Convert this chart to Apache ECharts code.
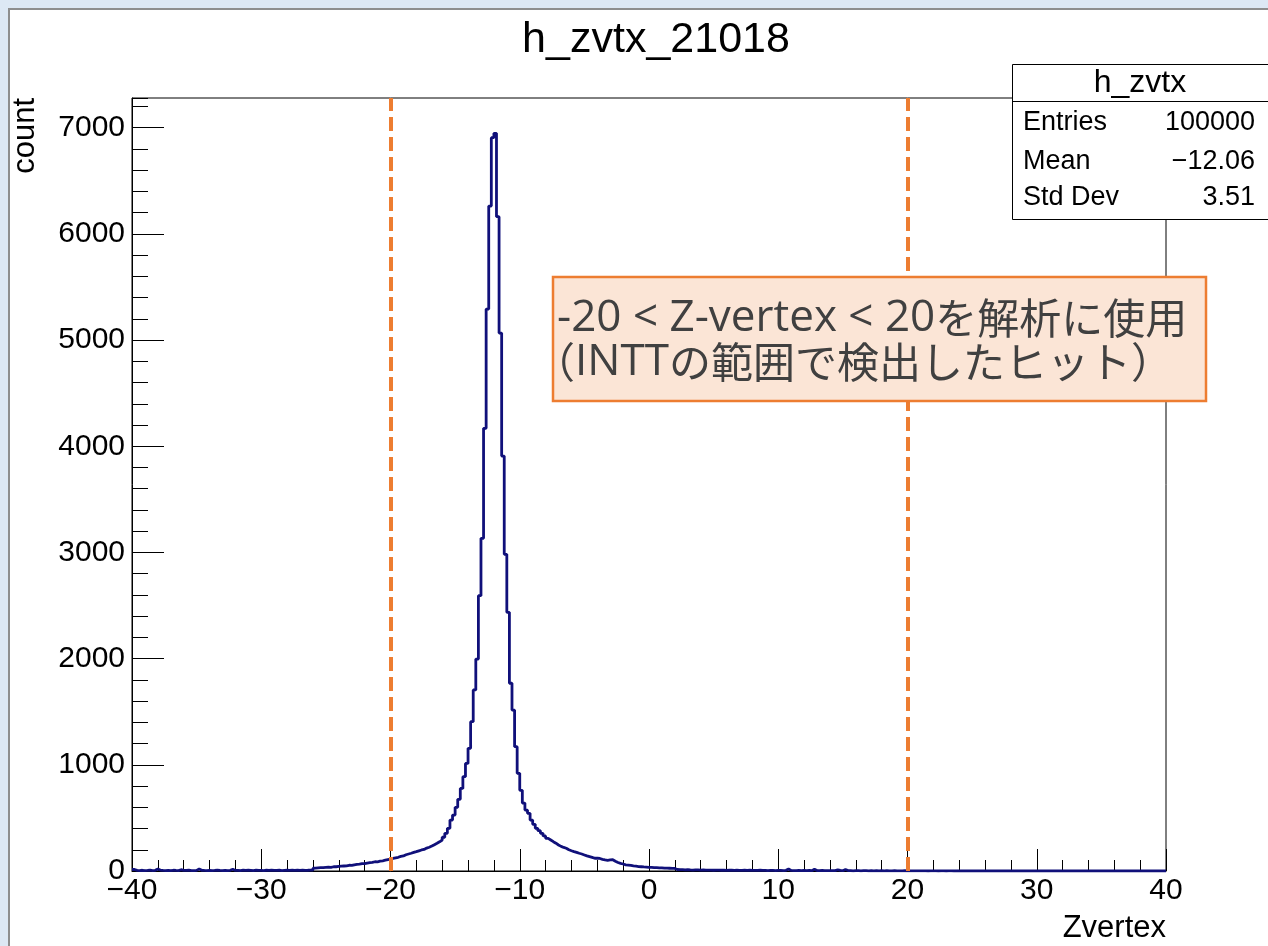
<!DOCTYPE html>
<html>
	<head>
		<meta charset="utf-8" />
		<script type="text/javascript" src="https://cdn.jsdelivr.net/npm/echarts@6/dist/echarts.min.js"></script>
		<title>h_zvtx_21018</title>
		<style>
			html, body { margin: 0; padding: 0; overflow: hidden; background: #dde8f4; }
			#panel { position: absolute; left: 8px; top: 8px; width: 1300px; height: 1000px; background: #fff; border: 2px solid #8e8e8e; }
			#chartmain { position: absolute; left: 0; top: 0; width: 1268px; height: 946px; }
		</style>
	</head>
	<body>
		<div id="panel"></div>
		<div id="chartmain"></div>
		<script type="text/javascript">
// histogram h_zvtx : 400 bins from -40 to 40
var binMin = -40;
var binWidth = 0.2;
var counts = [
  14, 6, 4, 7, 3, 5, 8, 4, 6, 18,            // -40 .. -38
  9, 5, 4, 6, 3, 7, 5, 4, 12, 6,
  5, 8, 4, 3, 6, 20, 7, 5, 4, 6,
  3, 5, 9, 6, 4, 5, 3, 7, 16, 5,
  6, 4, 8, 5, 7, 6, 4, 9, 5, 6,             // -32 .. -30
  4, 7, 5, 8, 6, 5, 7, 4, 6, 8,
  5, 7, 6, 9, 5, 8, 6, 7, 9, 8,
  27, 29, 31, 32, 34, 36, 35, 40, 40, 43,    // -26 .. -24
  45, 47, 49, 54, 52, 58, 62, 65, 70, 69,
  74, 78, 81, 87, 86, 92, 96, 102, 108, 112,
  118, 124, 129, 138, 142, 153, 160, 167, 175, 182,   // -20 .. -18
  190, 198, 203, 216, 224, 235, 248, 261, 275, 292,
  318, 355, 402, 480, 527, 600, 675, 778, 888, 1013,
  1155, 1406, 1705, 1996, 2593, 3133, 4169, 5292, 6262, 6906,   // -14 .. -12
  6947, 6162, 5066, 3908, 2982, 2436, 1768, 1516, 1171, 920,
  760, 640, 574, 543, 480, 440, 402, 380, 355, 330,
  308, 292, 276, 262, 245, 232, 222, 214, 200, 191,   // -8 .. -6
  183, 176, 167, 160, 151, 142, 135, 128, 120, 122,
  118, 110, 104, 100, 104, 106, 92, 80, 72, 66,
  58, 55, 52, 48, 45, 42, 40, 38, 37, 35,
  34, 32, 31, 30, 29, 27, 27, 26, 25, 24,   // 0 .. 2
  14, 13, 12, 11, 12, 10, 9, 11, 10, 9,
  10, 8, 9, 8, 7, 9, 8, 7, 8, 6,
  7, 8, 6, 7, 6, 5, 7, 6, 8, 5,
  6, 5, 7, 5, 6, 4, 6, 5, 4, 6,             // 8 .. 10
  5, 4, 6, 18, 5, 4, 3, 5, 4, 6,
  4, 5, 3, 16, 4, 3, 5, 4, 3, 4,
  3, 4, 12, 5, 3, 14, 4, 3, 2, 4,
  3, 2, 4, 3, 2, 3, 2, 4, 2, 3,             // 16 .. 18
  2, 3, 2, 2, 3, 2, 1, 2, 3, 2,
  2, 1, 2, 1, 1, 2, 1, 0, 1, 2,
  1, 0, 1, 1, 0, 1, 2, 0, 1, 0,
  1, 0, 0, 1, 0, 1, 0, 0, 1, 0,             // 24 .. 26
  0, 1, 0, 0, 0, 1, 0, 0, 0, 1,
  0, 0, 1, 0, 0, 0, 0, 1, 0, 0,
  0, 0, 0, 0, 1, 0, 0, 0, 0, 0,
  0, 0, 0, 0, 0, 0, 1, 0, 0, 0,             // 32 .. 34
  0, 0, 0, 0, 0, 0, 0, 0, 0, 0,
  0, 0, 0, 1, 0, 0, 0, 0, 0, 0,
  0, 0, 0, 0, 0, 0, 0, 0, 0, 0
];
var cutValues = [-20, 20];
var yMax = 7280;
var statsTitle = 'h_zvtx';
var statsNames = ['Entries', 'Mean', 'Std Dev'];
var statsValues = ['100000', '\u221212.06', '3.51'];
var noteLines = ['-20 < Z-vertex < 20を解析に使用', '（INTTの範囲で検出したヒット）'];

// step points at bin low edges, plus the last upper edge
var histData = counts.map(function (c, i) {
  return [+(binMin + i * binWidth).toFixed(2), c];
});
histData.push([+(binMin + counts.length * binWidth).toFixed(2), counts[counts.length - 1]]);

// latin runs in a wider face, the rest in the CJK face
function richLine(s) {
  return s.split(/([\x20-\x7e]+)/).filter(function (p) { return p.length; }).map(function (p) {
    return (/^[\x20-\x7e]+$/.test(p) ? '{a|' : '{b|') + p + '}';
  }).join('');
}

var rootFont = '"Liberation Sans", Arial, sans-serif';
var noteRich = {
  a: { fontFamily: '"Open Sans", sans-serif', fontSize: 44, fill: '#404040', color: '#404040', lineHeight: 46, verticalAlign: 'middle' },
  b: { fontFamily: '"Noto Sans CJK JP", sans-serif', fontSize: 42, fill: '#404040', color: '#404040', lineHeight: 46, verticalAlign: 'middle' }
};
var statsRowY = [123, 162, 198];

var graphics = [
  { type: 'text', x: 656, y: 40, z: 100,
    style: { text: 'h_zvtx_21018', font: '43px ' + rootFont, fill: '#000', textAlign: 'center', textVerticalAlign: 'middle' } },
  { type: 'text', x: 10, y: 98, rotation: Math.PI / 2, z: 100,
    style: { text: 'count', font: '31px ' + rootFont, fill: '#000', textAlign: 'right', textVerticalAlign: 'top' } },
  { type: 'text', x: 1166, y: 928, z: 100,
    style: { text: 'Zvertex', font: '31px ' + rootFont, fill: '#000', textAlign: 'right', textVerticalAlign: 'middle' } },
  // stats box
  { type: 'rect', z: 100, shape: { x: 1012.5, y: 64.5, width: 300, height: 155 },
    style: { fill: '#fff', stroke: '#000', lineWidth: 1 } },
  { type: 'line', z: 101, shape: { x1: 1012.5, y1: 101.5, x2: 1312, y2: 101.5 },
    style: { stroke: '#000', lineWidth: 1 } },
  { type: 'text', x: 1140, y: 83, z: 101,
    style: { text: statsTitle, font: '32px ' + rootFont, fill: '#000', textAlign: 'center', textVerticalAlign: 'middle' } },
  // annotation box
  { type: 'rect', z: 100, shape: { x: 553, y: 277, width: 653, height: 124 },
    style: { fill: '#fbe5d6', stroke: '#ed7d31', lineWidth: 2.5 } },
  { type: 'text', x: 557, y: 318, z: 101,
    style: { text: richLine(noteLines[0]), rich: noteRich, fill: '#404040', textAlign: 'left', textVerticalAlign: 'middle' } },
  { type: 'text', x: 533, y: 362, z: 101,
    style: { text: richLine(noteLines[1]), rich: noteRich, fill: '#404040', textAlign: 'left', textVerticalAlign: 'middle' } }
];
statsNames.forEach(function (name, i) {
  graphics.push({ type: 'text', x: 1023, y: statsRowY[i], z: 101,
    style: { text: name, font: '27px ' + rootFont, fill: '#000', textAlign: 'left', textVerticalAlign: 'middle' } });
  graphics.push({ type: 'text', x: 1255, y: statsRowY[i], z: 101,
    style: { text: statsValues[i], font: '27px ' + rootFont, fill: '#000', textAlign: 'right', textVerticalAlign: 'middle' } });
});

option = {
  animation: false,
  backgroundColor: 'transparent',
  grid: {
    left: 132, top: 98, width: 1034, height: 773,
    show: true, borderColor: '#000', borderWidth: 1, backgroundColor: 'transparent',
    outerBoundsMode: 'none'
  },
  xAxis: {
    type: 'value', min: -40, max: 40, interval: 10,
    axisLine: { onZero: false, lineStyle: { color: '#000', width: 1 } },
    axisTick: { inside: true, length: 22, lineStyle: { color: '#000', width: 1 } },
    minorTick: { show: true, splitNumber: 5, length: 11, lineStyle: { color: '#000', width: 1 } },
    splitLine: { show: false },
    axisLabel: {
      margin: 5, fontSize: 30, fontFamily: rootFont, color: '#000',
      formatter: function (v) { return v < 0 ? '\u2212' + Math.abs(v) : String(v); }
    }
  },
  yAxis: [
    {
      type: 'value', min: 0, max: yMax, interval: 1000, position: 'left',
      axisLine: { show: true, onZero: false, lineStyle: { color: '#000', width: 1 } },
      axisTick: { show: true, inside: true, length: 32, lineStyle: { color: '#000', width: 1 } },
      splitLine: { show: false },
      axisLabel: {
        margin: 7, fontSize: 30, fontFamily: rootFont, color: '#000', showMaxLabel: false,
        formatter: function (v) { return String(v); }
      }
    },
    {
      // minor ticks every 200
      type: 'value', min: 0, max: yMax, interval: 200, position: 'left',
      axisLine: { show: false, onZero: false },
      axisTick: { show: true, inside: true, length: 16, lineStyle: { color: '#000', width: 1 } },
      splitLine: { show: false },
      axisLabel: { show: false }
    }
  ],
  graphic: graphics,
  series: [
    {
      type: 'line',
      step: 'end',
      symbol: 'none',
      yAxisIndex: 0,
      data: histData,
      lineStyle: { color: '#10107a', width: 2.8 },
      markLine: {
        silent: true,
        symbol: ['none', 'none'],
        label: { show: false },
        lineStyle: { color: '#ed7d31', width: 4, type: [14, 6] },
        data: cutValues.map(function (v) { return { xAxis: v }; })
      }
    }
  ]
};
			var myChart = echarts.init(document.getElementById('chartmain'));
			myChart.setOption(option);

			window.addEventListener('resize', function () {
				myChart.resize()
			})
		</script>
	</body>
</html>
